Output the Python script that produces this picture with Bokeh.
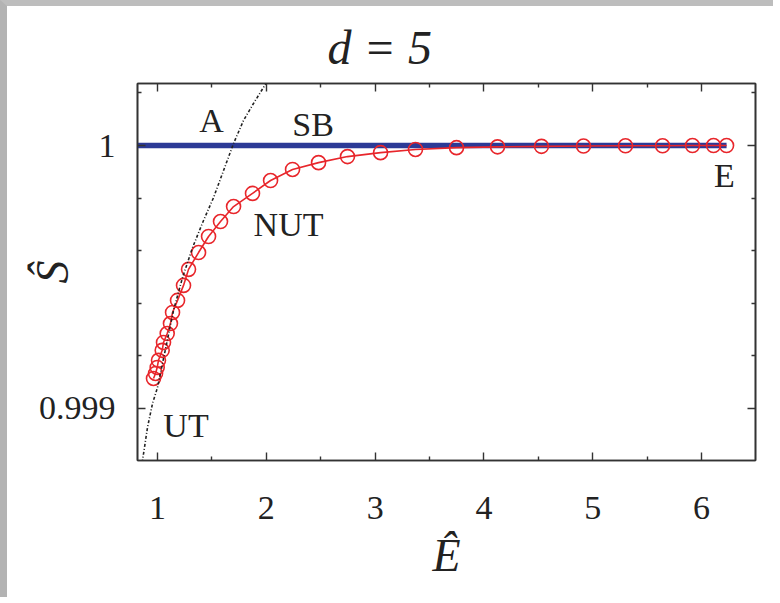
from bokeh.plotting import figure
from bokeh.models import Range1d, LinearAxis, FixedTicker, Label, CustomJSTickFormatter
from bokeh.embed import file_html
from bokeh.resources import INLINE

# ---- data ----
nut_E = [6.230, 6.110, 5.917, 5.642, 5.301, 4.915, 4.529, 4.125, 3.748, 3.371,
         3.050, 2.746, 2.480, 2.241, 2.039, 1.873, 1.699, 1.579, 1.469, 1.377,
         1.285, 1.239, 1.184, 1.138, 1.119, 1.089, 1.055, 1.043, 1.009, 0.997,
         0.982, 0.963]
nut_S = [1.000000, 1.000000, 1.000000, 0.999999, 0.999999, 0.999998, 0.999997, 0.999995,
         0.999992, 0.999985, 0.999973, 0.999958, 0.999935, 0.999909, 0.999867, 0.999818,
         0.999768, 0.999711, 0.999654, 0.999593, 0.999529, 0.999468, 0.999411, 0.999365,
         0.999323, 0.999285, 0.999251, 0.999221, 0.999183, 0.999156, 0.999133, 0.999114]

sb_E = [0.80, 6.23]
sb_S = [1.0, 1.0]

a_E = [0.844, 0.862, 0.908, 0.954, 1.000, 1.147, 1.230, 1.322, 1.423, 1.515,
       1.607, 1.699, 1.790, 1.882, 1.974, 2.040]
a_S = [0.998764, 0.998802, 0.998928, 0.999019, 0.999080, 0.999373, 0.999498, 0.999612,
       0.999715, 0.999802, 0.999905, 1.000008, 1.000095, 1.000160, 1.000221, 1.000266]

x_major = [1, 2, 3, 4, 5, 6]
x_minor = [1.5, 2.5, 3.5, 4.5, 5.5]
y_major = [0.999, 1.0]
y_minor = [0.9988, 0.9992, 0.9994, 0.9996, 0.9998, 1.0002]

label_text = ["A", "SB", "NUT", "UT", "E"]
label_x = [1.496, 2.43, 2.204, 1.262, 6.211]
label_y = [1.000095, 1.00008, 0.999698, 0.998937, 0.999886]

title_text = "d = 5"
x_title = "Ê"
y_title = "Ŝ"

SERIF = "Liberation Serif"
RED = "#e8262b"
BLUE = "#2c3a96"
DARK = "#333333"

p = figure(width=773, height=597, output_backend="svg", toolbar_location=None,
           x_range=Range1d(0.816, 6.496), y_range=Range1d(0.998802, 1.000236),
           min_border_left=130, min_border_right=25, min_border_top=77, min_border_bottom=143,
           background_fill_color="white", border_fill_color="white")
p.styles = {"border-left": "7px solid #b3b3b3", "border-top": "6px solid #bdbdbd"}

p.xgrid.visible = False
p.ygrid.visible = False
p.outline_line_color = DARK
p.outline_line_width = 1.6

xt = FixedTicker(ticks=x_major, minor_ticks=x_minor)
yt = FixedTicker(ticks=y_major, minor_ticks=y_minor)

def style_axis(ax):
    ax.axis_line_color = DARK
    ax.axis_line_width = 1.6
    ax.major_tick_line_color = DARK
    ax.minor_tick_line_color = DARK
    ax.major_tick_line_width = 1.4
    ax.minor_tick_line_width = 1.4
    ax.major_tick_in = 8
    ax.major_tick_out = 0
    ax.minor_tick_in = 4
    ax.minor_tick_out = 0
    ax.major_label_text_font = SERIF
    ax.major_label_text_font_size = "34px"
    ax.major_label_text_color = "#222222"
    ax.axis_label_text_font = SERIF
    ax.axis_label_text_font_style = "italic"
    ax.axis_label_text_font_size = "46px"
    ax.axis_label_text_color = "#222222"

xa = p.xaxis[0]
xa.ticker = xt
style_axis(xa)
xa.major_label_standoff = 36
xa.axis_label = x_title
xa.axis_label_standoff = 8

ya = p.yaxis[0]
ya.ticker = yt
style_axis(ya)
ya.formatter = CustomJSTickFormatter(code="return String(Math.round(tick*1000)/1000);")
ya.major_label_standoff = 22
ya.major_label_orientation = "horizontal"
ya.axis_label = y_title
ya.axis_label_standoff = -42

blank = CustomJSTickFormatter(code="return '';")
top = LinearAxis(ticker=xt, formatter=blank)
style_axis(top)
top.major_label_text_font_size = "0px"
p.add_layout(top, "above")
right = LinearAxis(ticker=yt, formatter=blank)
style_axis(right)
right.major_label_text_font_size = "0px"
p.add_layout(right, "right")

p.title.text = title_text
p.title.text_font = SERIF
p.title.text_font_style = "italic"
p.title.text_font_size = "48px"
p.title.text_color = "#222222"
p.title.align = "left"
p.title.offset = 190
p.title.standoff = 19

p.line(sb_E, sb_S, line_color=BLUE, line_width=5.5)
p.line(nut_E, nut_S, line_color=RED, line_width=1.6)
p.scatter(nut_E, nut_S, marker="circle", size=14, fill_color=None,
          line_color=RED, line_width=1.6)
p.line(a_E, a_S, line_color="#222222", line_width=1.6, line_dash="3 2 1 2")

for t, lx, ly in zip(label_text, label_x, label_y):
    p.add_layout(Label(x=lx, y=ly, text=t, text_font=SERIF, text_font_size="34px",
                       text_color="#222222", text_align="center", text_baseline="middle"))

open("out.html", "w").write(file_html(p, INLINE))
